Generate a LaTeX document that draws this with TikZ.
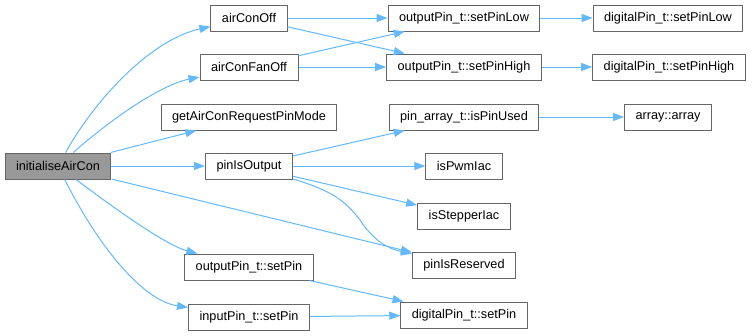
\documentclass[tikz,border=0pt]{standalone}
\usepackage{fontspec}
\setmainfont{Liberation Sans}
\usetikzlibrary{arrows.meta}
\definecolor{edgeblue}{RGB}{99,184,255}
\definecolor{boxgray}{RGB}{102,102,102}
\definecolor{rootgray}{RGB}{153,153,153}

\begin{document}
\begin{tikzpicture}[x=1pt, y=-1pt,
  fn/.style={draw=boxgray, line width=1pt, fill=white, minimum height=26pt, inner xsep=11pt, inner ysep=0pt, font=\fontsize{12.7}{14}\selectfont},
  call/.style={draw=edgeblue, line width=1pt, -{Triangle[length=11pt, width=8pt]}}]
  \useasboundingbox (0,0) rectangle (752,335);

  \node[fn, fill=rootgray] (init) at (58,166) {initialiseAirCon};

  \node[fn] (airConOff) at (249,18) {airConOff};
  \node[fn] (airConFanOff) at (249,67) {airConFanOff};
  \node[fn] (getMode) at (249,117) {getAirConRequestPinMode};
  \node[fn] (pinIsOutput) at (249,166) {pinIsOutput};
  \node[fn] (outSetPin) at (249,267) {outputPin\_t::setPin};
  \node[fn] (inSetPin) at (249,317) {inputPin\_t::setPin};

  \node[fn] (outSetPinLow) at (464,18) {outputPin\_t::setPinLow};
  \node[fn] (outSetPinHigh) at (464,67) {outputPin\_t::setPinHigh};
  \node[fn] (isPinUsed) at (464,117) {pin\_array\_t::isPinUsed};
  \node[fn] (isPwmIac) at (464,166) {isPwmIac};
  \node[fn] (isStepperIac) at (464,216) {isStepperIac};
  \node[fn] (pinIsReserved) at (464,265) {pinIsReserved};
  \node[fn] (digSetPin) at (464,315) {digitalPin\_t::setPin};

  \node[fn] (digSetPinLow) at (668,18) {digitalPin\_t::setPinLow};
  \node[fn] (digSetPinHigh) at (669,67) {digitalPin\_t::setPinHigh};
  \node[fn] (arrayCtor) at (668,117) {array::array};

  % calls from the root
  \draw[call] (init) .. controls (95,100) and (150,40) .. (airConOff);
  \draw[call] (init) .. controls (110,120) and (160,85) .. (airConFanOff);
  \draw[call] (init) -- (getMode);
  \draw[call] (init) -- (pinIsOutput);
  \draw[call] (init) -- (pinIsReserved);
  \draw[call] (init) .. controls (110,205) and (165,245) .. (outSetPin);
  \draw[call] (init) .. controls (95,240) and (140,300) .. (inSetPin);

  \draw[call] (airConOff) -- (outSetPinLow);
  \draw[call] (airConOff) -- (outSetPinHigh);
  \draw[call] (airConFanOff) -- (outSetPinLow);
  \draw[call] (airConFanOff) -- (outSetPinHigh);
  \draw[call] (outSetPinLow) -- (digSetPinLow);
  \draw[call] (outSetPinHigh) -- (digSetPinHigh);

  \draw[call] (pinIsOutput) -- (isPinUsed);
  \draw[call] (pinIsOutput) -- (isPwmIac);
  \draw[call] (pinIsOutput) -- (isStepperIac);
  \draw[call] (pinIsOutput) .. controls (330,190) and (345,200) .. (360,220)
    .. controls (372,238) and (385,248) .. (pinIsReserved);
  \draw[call] (isPinUsed) -- (arrayCtor);

  \draw[call] (outSetPin) -- (digSetPin);
  \draw[call] (inSetPin) -- (digSetPin);
\end{tikzpicture}
\end{document}
